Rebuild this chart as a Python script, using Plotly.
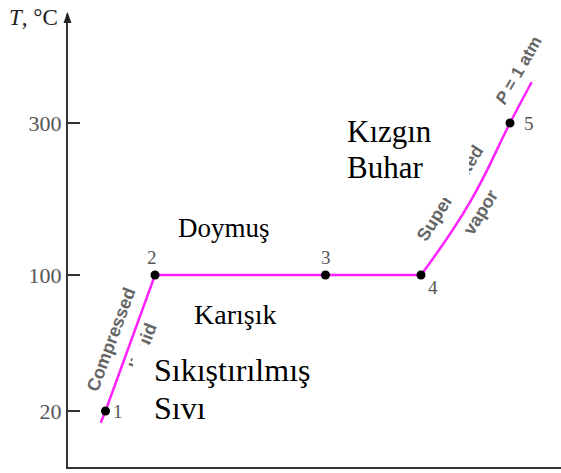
import plotly.graph_objects as go

# ---- data (schematic T-v diagram of water at P = 1 atm) ----
states = ['1', '2', '3', '4', '5']
v_states = [37.5, 87, 257.5, 353, 442]          # schematic specific volume
T_states = [20, 100, 100, 100, 300]              # °C
v_liquid_sat = [32.7, 37.5, 87, 257.5, 353]
T_liquid_sat = [13, 20, 100, 100, 100]
v_superheated = [353, 402, 442, 463.7]
T_superheated = [100, 196, 300, 354]
T_ticks = [20, 100, 300]
tick_text = ['20', '100', '300']

# broken temperature axis: above 100 °C the scale is compressed
COMPRESS = 0.447
def ypos(T):
    return T if T <= 100 else 100 + (T - 100) * COMPRESS

# plot-area geometry (pixels)
L, R, TOP, BOT = 68, 561, 14, 467
W, H = R - L, BOT - TOP
def px(X):
    return (X - L) / W
def py(Y):
    return (BOT - Y) / H

SERIF = "Liberation Serif, Times New Roman, serif"
SANS = "Liberation Sans, Arial, sans-serif"
MAG = "#ff22ff"

fig = go.Figure()
fig.add_trace(go.Scatter(x=v_liquid_sat, y=[ypos(t) for t in T_liquid_sat], mode="lines",
                         line=dict(color=MAG, width=2.5), hoverinfo="skip"))
fig.add_trace(go.Scatter(x=v_superheated, y=[ypos(t) for t in T_superheated], mode="lines",
                         line=dict(color=MAG, width=2.5, shape="spline", smoothing=1.3), hoverinfo="skip"))
fig.add_trace(go.Scatter(x=v_states, y=[ypos(t) for t in T_states], mode="markers",
                         marker=dict(color="black", size=9), hoverinfo="skip"))

ann = []
# state labels
offsets = {'1': (12, 0), '2': (-3, 18), '3': (0, 18), '4': (12, -12), '5': (19, 0)}
for s, v, t in zip(states, v_states, T_states):
    dx, dy = offsets[s]
    ann.append(dict(x=v, y=ypos(t), text=s, showarrow=False, xshift=dx, yshift=dy,
                    xanchor="center", yanchor="middle",
                    font=dict(family=SERIF, size=19, color="#555")))

# rotated region labels (original English)
def rot(text, X, Y, ang, size=18, color="#666"):
    ann.append(dict(x=px(X), y=py(Y), xref="paper", yref="paper", text="<b>" + text + "</b>",
                    showarrow=False, xanchor="center", yanchor="middle",
                    textangle=ang, font=dict(family=SANS, size=size, color=color)))
rot("Compressed", 111, 340, -69.5)
rot("liquid", 142.5, 346.6, -69.5)
rot("Superheated", 450.5, 193.4, -58)
rot("vapor", 480, 212.5, -58)
rot("<i>P</i> = 1 atm", 519, 71, -60, size=17)

# white cover boxes
def cover(x0, y0, x1, y1):
    ann.append(dict(x=px(x0), y=py(y0), xref="paper", yref="paper", text=" ", showarrow=False,
                    xanchor="left", yanchor="top", width=x1 - x0, height=y1 - y0,
                    bgcolor="white", borderpad=0, borderwidth=0))
cover(325, 101, 469, 198)
cover(170, 287, 318, 342)
cover(133, 345, 330, 440)

# Turkish labels
def tr(text, X, Y, size):
    ann.append(dict(x=px(X), y=py(Y), xref="paper", yref="paper", text=text, showarrow=False,
                    xanchor="left", yanchor="middle", font=dict(family=SERIF, size=size, color="black")))
tr("Doymuş", 176, 228, 27)
tr("Karışık", 192, 314, 28)
tr("Kızgın", 345, 131, 31)
tr("Buhar", 345, 168, 31)
tr("Sıkıştırılmış", 152, 370, 32)
tr("Sıvı", 152, 408, 32)

# axis title
ann.append(dict(x=px(7), y=py(17), xref="paper", yref="paper", text="<i>T</i>, °C", showarrow=False,
                xanchor="left", yanchor="middle", font=dict(family=SERIF, size=23, color="#222")))

fig.update_layout(
    width=561, height=473,
    margin=dict(l=L, r=561 - R, t=TOP, b=473 - BOT),
    paper_bgcolor="white", plot_bgcolor="white",
    showlegend=False,
    annotations=ann,
    shapes=[dict(type="path", xref="paper", yref="paper",
                 path=f"M {px(63.5)} {py(23)} L {px(67.5)} {py(12)} L {px(71.5)} {py(23)} Z",
                 fillcolor="#222", line=dict(width=0))],
    xaxis=dict(range=[0, W], showline=True, linecolor="#333", linewidth=2, showgrid=False,
               zeroline=False, showticklabels=False, ticks=""),
    yaxis=dict(range=[ypos(20) - (BOT - 411) / 1.7, 100 + (275 - TOP) / 1.7],
               showline=True, linecolor="#333", linewidth=2, showgrid=False, zeroline=False,
               tickvals=[ypos(t) for t in T_ticks], ticktext=tick_text,
               ticks="inside", ticklen=12, tickwidth=2, tickcolor="#333",
               tickfont=dict(family=SERIF, size=22, color="#555")),
)
fig.write_html("out.html", config={"displayModeBar": False},
               post_script="document.body.style.margin='0';")
